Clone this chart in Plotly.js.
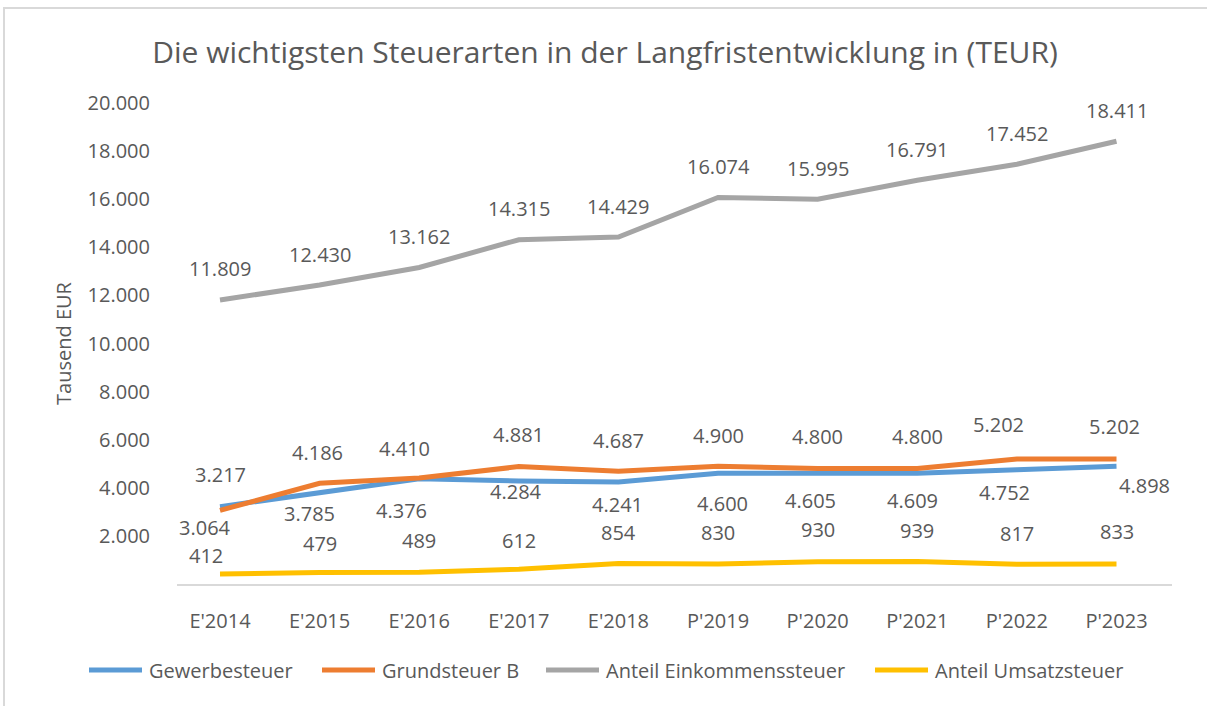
<!DOCTYPE html>
<html>
<head>
<meta charset="utf-8">
<script src="https://cdn.plot.ly/plotly-3.0.1.min.js"></script>
<style>
html, body { margin: 0; padding: 0; background: #ffffff; }
#chart { position: absolute; left: 0; top: 0; width: 1207px; height: 706px; }
#frame { position: absolute; left: 3px; top: 7px; width: 1300px; height: 800px;
  border-left: 2px solid #d9d9d9; border-top: 2px solid #d9d9d9; pointer-events: none; }
</style>
</head>
<body>
<div id="chart"></div>
<div id="frame"></div>
<script>
// ---- data ----
const categories = ["E'2014", "E'2015", "E'2016", "E'2017", "E'2018", "P'2019", "P'2020", "P'2021", "P'2022", "P'2023"];
const gewerbesteuer = [3217, 3785, 4376, 4284, 4241, 4600, 4605, 4609, 4752, 4898];
const grundsteuerB = [3064, 4186, 4410, 4881, 4687, 4900, 4800, 4800, 5202, 5202];
const einkommensteuer = [11809, 12430, 13162, 14315, 14429, 16074, 15995, 16791, 17452, 18411];
const umsatzsteuer = [412, 479, 489, 612, 854, 830, 930, 939, 817, 833];
const yTickVals = [2000, 4000, 6000, 8000, 10000, 12000, 14000, 16000, 18000, 20000];
const seriesNames = ["Gewerbesteuer", "Grundsteuer B", "Anteil Einkommenssteuer", "Anteil Umsatzsteuer"];

// ---- label placement (pixel offsets of data labels relative to their points) ----
const labelOffsets = {
  g: { dy: [32, -21, -32, -11, -22, -30, -27, -27, -23, -19], dx: [0, -10, -18, -3, -1, 4, -7, -5, -12, 28] },
  b: { dy: [-17, 31, 29, 32, 31, 31, 32, 32, 34, 32], dx: [-15, -2, -15, 0, 0, 0, 0, 0, -18, -2] },
  e: { dy: [31, 31, 31, 31, 30, 31, 31, 31, 31, 31], dx: [0, 0, 0, 0, 0, 0, 0, 0, 0, 0] },
  u: { dy: [19, 29, 32, 29, 31, 32, 32, 31, 31, 32], dx: [-14, 0, 0, 0, 0, 0, 0, 0, 0, 0] }
};

// ---- geometry / style ----
const M = { l: 177, r: 35, t: 103, b: 122 };
const W = 1207, H = 706;
const FONT = "'Open Sans', 'Noto Sans', sans-serif";
const TXT = "#595959";
const COLORS = ["#5B9BD5", "#ED7D31", "#A5A5A5", "#FFC000"];
const KEYS = ["g", "b", "e", "u"];
// legend: line start/end and text start (page pixels), row centre
const legendItems = [
  { x0: 89, x1: 142, tx: 147 },
  { x0: 322, x1: 375, tx: 380 },
  { x0: 546, x1: 599, tx: 604 },
  { x0: 875, x1: 928, tx: 933 }
];
const legendRowY = 670;

function fmt(v) {
  return String(v).replace(/\B(?=(\d{3})+(?!\d))/g, ".");
}
const pw = W - M.l - M.r, ph = H - M.t - M.b;
const px2paperX = px => (px - M.l) / pw;
const px2paperY = py => (H - M.b - py) / ph;

const seriesValues = [gewerbesteuer, grundsteuerB, einkommensteuer, umsatzsteuer];

const traces = seriesValues.map((vals, k) => ({
  type: "scatter",
  mode: "lines",
  name: seriesNames[k],
  x: categories,
  y: vals,
  line: { color: COLORS[k], width: 5 },
  showlegend: false,
  hoverinfo: "x+y+name"
}));

const annotations = [];
seriesValues.forEach((vals, k) => {
  const off = labelOffsets[KEYS[k]];
  vals.forEach((v, i) => {
    annotations.push({
      x: categories[i], y: v, xref: "x", yref: "y",
      text: fmt(v), showarrow: false,
      xshift: off.dx[i], yshift: off.dy[i],
      font: { family: FONT, size: 20, color: TXT }
    });
  });
});

// custom legend (Excel-style long line symbols)
const shapes = [];
legendItems.forEach((it, k) => {
  shapes.push({
    type: "line", xref: "paper", yref: "paper",
    x0: px2paperX(it.x0), x1: px2paperX(it.x1),
    y0: px2paperY(legendRowY), y1: px2paperY(legendRowY),
    line: { color: COLORS[k], width: 5 }
  });
  annotations.push({
    xref: "paper", yref: "paper",
    x: px2paperX(it.tx), y: px2paperY(legendRowY),
    xanchor: "left", yanchor: "middle",
    text: seriesNames[k], showarrow: false,
    font: { family: FONT, size: 20, color: TXT }
  });
});

const layout = {
  width: W, height: H,
  paper_bgcolor: "#ffffff", plot_bgcolor: "#ffffff",
  margin: M,
  separators: ",.",
  font: { family: FONT, color: TXT, size: 20 },
  title: {
    text: "Die wichtigsten Steuerarten in der Langfristentwicklung in (TEUR)",
    font: { family: FONT, size: 30, color: TXT },
    x: 605 / W, xref: "container", xanchor: "center",
    y: 1 - 52 / H, yref: "container", yanchor: "middle"
  },
  xaxis: {
    type: "category",
    showgrid: false, zeroline: false,
    showline: true, linecolor: "#d9d9d9", linewidth: 2,
    ticks: "", ticklabelstandoff: 18,
    tickfont: { family: FONT, size: 20, color: TXT },
    fixedrange: true
  },
  yaxis: {
    range: [0, 20000],
    tickvals: yTickVals,
    ticktext: yTickVals.map(fmt),
    showgrid: false, zeroline: false, showline: false,
    ticks: "", ticklabelstandoff: 26,
    tickfont: { family: FONT, size: 20, color: TXT },
    title: { text: "Tausend EUR", font: { family: FONT, size: 20, color: TXT }, standoff: 10 },
    fixedrange: true
  },
  showlegend: false,
  shapes: shapes,
  annotations: annotations
};

Plotly.newPlot("chart", traces, layout, { displayModeBar: false, staticPlot: true });
</script>
</body>
</html>
